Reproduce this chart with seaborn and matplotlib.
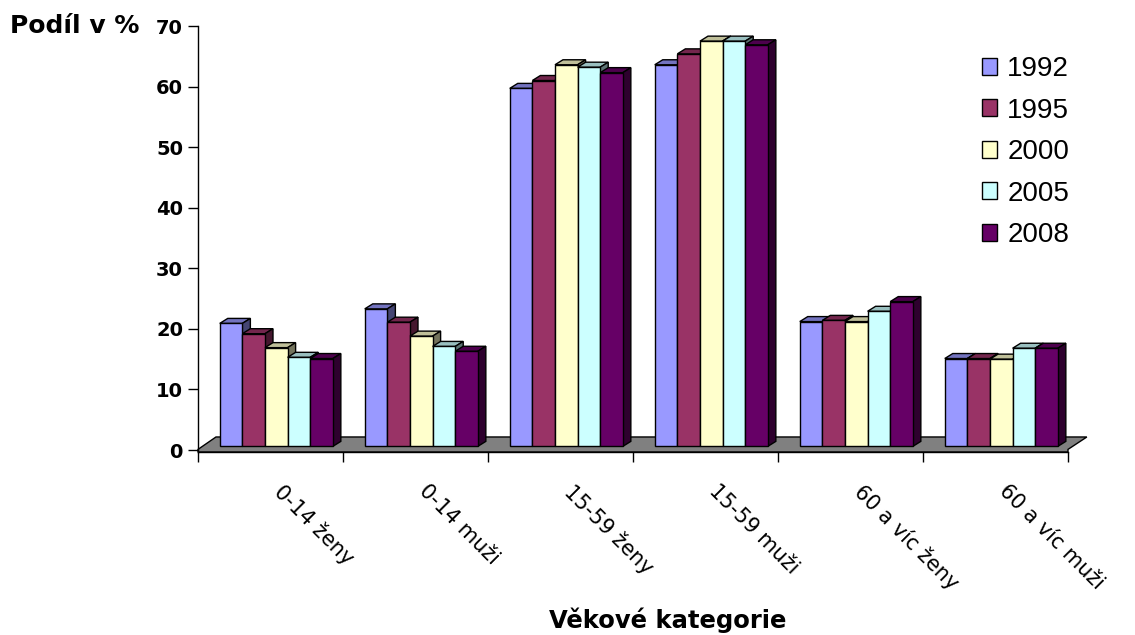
import pandas as pd
import numpy as np
import matplotlib
matplotlib.use('Agg')
import matplotlib.pyplot as plt
import matplotlib.transforms as mtransforms
from matplotlib.patches import Polygon
from matplotlib.colors import to_rgb
import seaborn as sns

# data
kategorie = ['0-14 ženy', '0-14 muži', '15-59 ženy', '15-59 muži', '60 a víc ženy', '60 a víc muži']
roky = ['1992', '1995', '2000', '2005', '2008']
v1992 = [20.3, 22.7, 59.1, 63.0, 20.6, 14.5]
v1995 = [18.6, 20.5, 60.4, 64.8, 20.8, 14.5]
v2000 = [16.3, 18.2, 63.0, 66.9, 20.6, 14.4]
v2005 = [14.7, 16.5, 62.6, 66.9, 22.3, 16.2]
v2008 = [14.5, 15.7, 61.7, 66.3, 23.9, 16.2]
barvy = ['#9999FF', '#993366', '#FFFFCC', '#CCFFFF', '#660066']

df = pd.DataFrame({
    'kategorie': kategorie * len(roky),
    'rok': np.repeat(roky, len(kategorie)),
    'podil': v1992 + v1995 + v2000 + v2005 + v2008,
})

sns.set_style('white')
plt.rcParams['font.family'] = ['DejaVu Sans']
plt.rcParams['text.color'] = 'black'
plt.rcParams['xtick.color'] = 'black'
plt.rcParams['ytick.color'] = 'black'
plt.rcParams['axes.labelcolor'] = 'black'

fig = plt.figure(figsize=(11.35, 6.35), dpi=100)
ax = fig.add_axes([198 / 1135, 183 / 635, 870 / 1135, 426 / 635])

sns.barplot(data=df, x='kategorie', y='podil', hue='rok', order=kategorie, hue_order=roky,
            palette=barvy, width=0.78, edgecolor='black', linewidth=1, saturation=1,
            errorbar=None, ax=ax)

# fake 3D: top and side faces, bars pushed a bit into the floor
dx, dy = 8 / 145, 5 / 6.057
for i, cont in enumerate(ax.containers):
    c = np.array(to_rgb(barvy[i]))
    for rect in cont:
        rect.set_x(rect.get_x() + 0.04)
        rect.set_y(0.6)
        rect.set_zorder(3 + i + 0.5)
        x0, y0 = rect.get_x(), rect.get_y()
        w, h = rect.get_width(), rect.get_height()
        y1 = y0 + h
        top = Polygon([(x0, y1), (x0 + w, y1), (x0 + w + dx, y1 + dy), (x0 + dx, y1 + dy)],
                      facecolor=c * 0.75, edgecolor='black', linewidth=1, zorder=3 + i)
        side = Polygon([(x0 + w, y0), (x0 + w + dx, y0 + dy), (x0 + w + dx, y1 + dy), (x0 + w, y1)],
                       facecolor=c * 0.45, edgecolor='black', linewidth=1, zorder=3 + i)
        ax.add_patch(top)
        ax.add_patch(side)

# grey floor
floor = Polygon([(-0.5, -0.33), (5.5, -0.33), (5.5, 0.1), (5.63, 2.15), (-0.376, 2.15), (-0.5, 0.1)],
                facecolor='#808080', edgecolor='black', linewidth=1, zorder=1, clip_on=False)
ax.add_patch(floor)

ax.set_xlim(-0.5, 5.5)
ax.set_ylim(-0.33, 70)
ax.set_yticks(range(0, 71, 10))
ax.set_xticks(range(len(kategorie)))
ax.set_xticks(np.arange(-0.5, 6, 1), minor=True)
ax.set_xticklabels(kategorie, rotation=-45, ha='left', va='top', rotation_mode='anchor', fontsize=15)
ax.tick_params(axis='x', which='major', length=0, pad=21)
ax.tick_params(axis='x', which='minor', length=7.2, width=1, color='black', direction='out', bottom=True)
ax.tick_params(axis='y', length=7.2, width=1, color='black', direction='out', left=True, pad=3.6, labelsize=14)
for lab in ax.get_yticklabels():
    lab.set_fontweight('bold')
shift = mtransforms.ScaledTranslation(10 / 72, 0, fig.dpi_scale_trans)
for lab in ax.get_xticklabels():
    lab.set_transform(lab.get_transform() + shift)

for s in ['top', 'right']:
    ax.spines[s].set_visible(False)
for s in ['left', 'bottom']:
    ax.spines[s].set_color('black')
    ax.spines[s].set_linewidth(1)

ax.set_xlabel('')
ax.set_ylabel('')

fig.text(10 / 1135, 1 - 33 / 635, 'Podíl v %', fontsize=18, fontweight='bold', va='baseline', ha='left')
fig.text(668 / 1135, 7 / 635, 'Věkové kategorie', fontsize=17.5, fontweight='bold', va='baseline', ha='center')

handles, labels = ax.get_legend_handles_labels()
ax.legend(handles, labels, loc='upper left', bbox_to_anchor=(982 / 1135, 1 - 56 / 635),
          bbox_transform=fig.transFigure, frameon=False, borderpad=0, borderaxespad=0,
          handlelength=0.55, handleheight=0.55, handletextpad=0.36, labelspacing=0.56,
          prop={'family': 'Liberation Sans', 'size': 20})

fig.savefig('out.png', dpi=100)
